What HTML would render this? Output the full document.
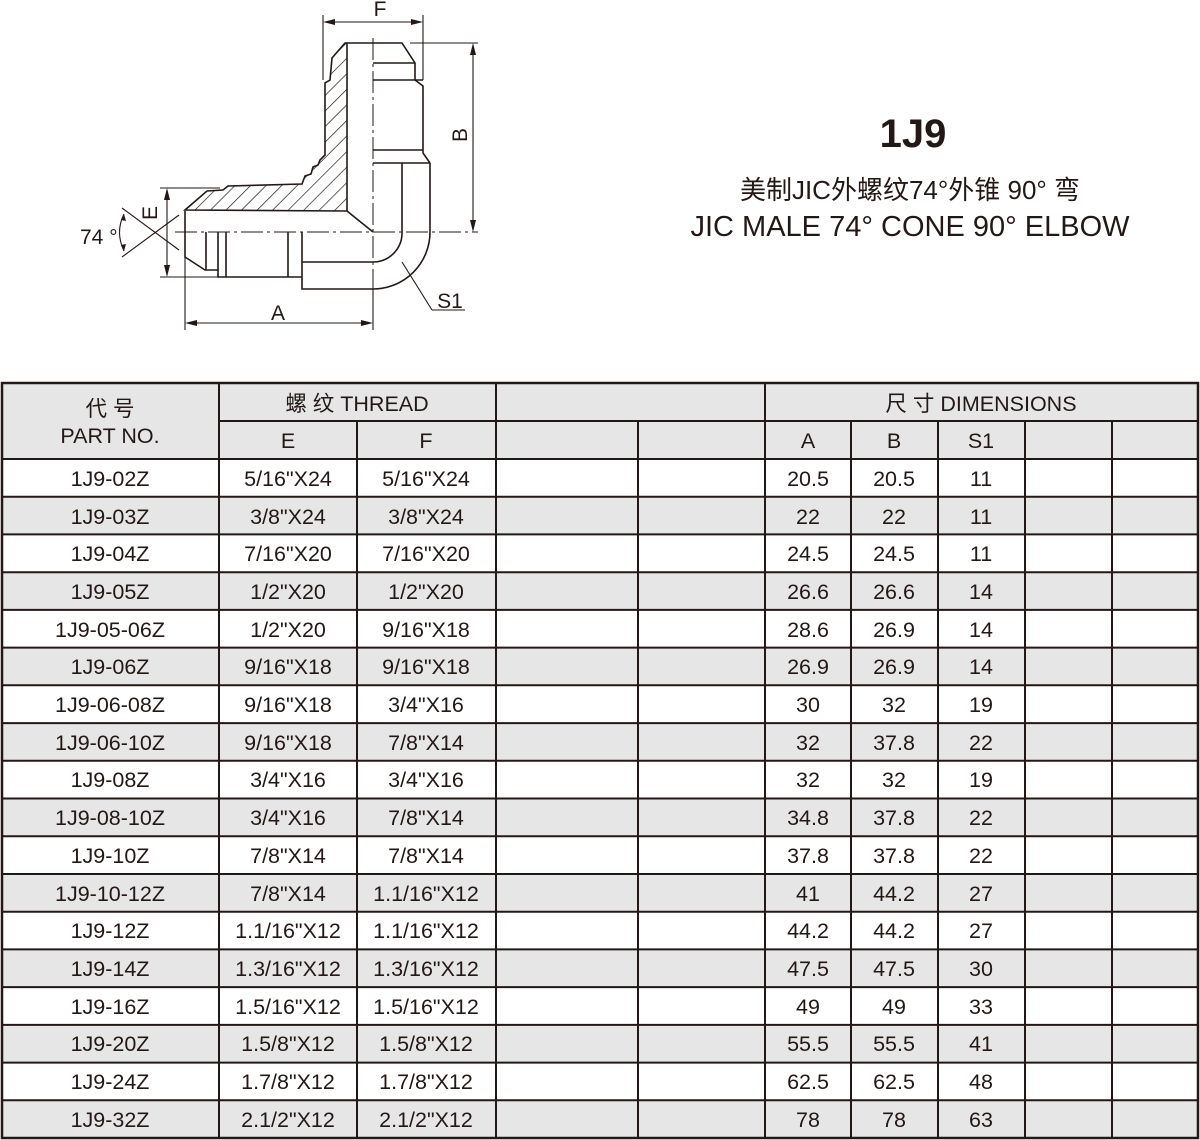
<!DOCTYPE html>
<html><head><meta charset="utf-8"><style>
html,body{margin:0;padding:0;background:#fff;}
svg{display:block;}
text{font-family:"Liberation Sans","Noto Sans CJK SC",sans-serif;fill:#231815;}
</style></head><body>
<svg width="1200" height="1140" viewBox="0 0 1200 1140" xmlns="http://www.w3.org/2000/svg">
<defs>
<pattern id="h" patternUnits="userSpaceOnUse" width="11" height="11" patternTransform="rotate(45)">
<line x1="0" y1="0" x2="0" y2="11" stroke="#231815" stroke-width="1.4"/>
</pattern>
</defs>
<g stroke="#231815" stroke-width="1.6" fill="none">
<path d="M345,43 L332,58 L330,80 L325,83 L325,155 L320,160 L318,165 L313,167 L311,174 L305,176 L302,184 L228,186 L223,190 L207,191 L185,210 L347,211 L347,43 Z" fill="url(#h)"/>
<line x1="347" y1="211" x2="373" y2="232"/>
<path d="M347,43 L402,43 L415,63 L415,80 L423,86 L423,153 L430,163"/>
<line x1="373" y1="63" x2="415" y2="63"/>
<line x1="373" y1="80" x2="423" y2="80"/>
<line x1="373" y1="150" x2="423" y2="150"/>
<line x1="373" y1="163" x2="430" y2="163"/>
<path d="M430,163 L430,232 A57,57 0 0 1 373,289 L302,289 L302,232"/>
<path d="M402,163 L402,232 A29,29 0 0 1 373,262 L302,262"/>
<path d="M185,211 L185,257 L205,270 L218,270 L218,277 L302,277"/>
<line x1="206" y1="232" x2="206" y2="270"/>
<line x1="218" y1="232" x2="218" y2="270"/>
<line x1="226" y1="232" x2="226" y2="277"/>
<line x1="288" y1="232" x2="288" y2="277"/>
<line x1="175" y1="232" x2="478" y2="232" stroke-width="1" stroke-dasharray="22,4,3,4"/>
<line x1="373" y1="38" x2="373" y2="330" stroke-width="1" stroke-dasharray="22,4,3,4"/>
<g stroke-width="1.1">
<line x1="160" y1="188" x2="220" y2="188"/><line x1="160" y1="277" x2="218" y2="277"/>
<line x1="167" y1="190" x2="167" y2="275"/>
<line x1="122" y1="208" x2="179" y2="250"/><line x1="122" y1="257" x2="179" y2="215"/>
<path d="M124,214 Q115,232 124,251"/>
<line x1="185" y1="257" x2="185" y2="330"/><line x1="373" y1="289" x2="373" y2="330"/>
<line x1="187" y1="323" x2="371" y2="323"/>
<line x1="323" y1="15" x2="323" y2="80"/><line x1="423" y1="15" x2="423" y2="80"/>
<line x1="325" y1="22" x2="421" y2="22"/>
<line x1="410" y1="43" x2="478" y2="43"/>
<line x1="473" y1="45" x2="473" y2="230"/>
<line x1="402" y1="262" x2="432" y2="310"/><line x1="432" y1="310" x2="465" y2="310"/>
</g>
</g>
<g fill="#231815">
<path d="M167,188 l-3,12 h6 z"/><path d="M167,277 l-3,-12 h6 z"/>
<path d="M185,323 l12,-3 v6 z"/><path d="M373,323 l-12,-3 v6 z"/>
<path d="M323,22 l12,-3 v6 z"/><path d="M423,22 l-12,-3 v6 z"/>
<path d="M473,43 l-3,12 h6 z"/><path d="M473,232 l-3,-12 h6 z"/>
<path d="M124,214 l-3,6 l5,1 z"/><path d="M124,251 l-3,-6 l5,-1 z"/>
</g>
<text x="380" y="16" font-size="21" text-anchor="middle">F</text>
<text x="278" y="320" font-size="21" text-anchor="middle">A</text>
<text x="450" y="308" font-size="21" text-anchor="middle">S1</text>
<text x="80" y="244" font-size="21">74 °</text>
<text transform="translate(157,213) rotate(-90)" font-size="21" text-anchor="middle">E</text>
<text transform="translate(467,135) rotate(-90)" font-size="21" text-anchor="middle">B</text>
<text x="913" y="147" font-size="40" font-weight="bold" text-anchor="middle">1J9</text>
<text x="910" y="199" font-size="26" text-anchor="middle">美制JIC外螺纹74°外锥 90° 弯</text>
<text x="910" y="236" font-size="29" text-anchor="middle">JIC MALE 74° CONE 90° ELBOW</text>
<g fill="#e6e6e6">
<rect x="2" y="383" width="1196" height="76"/>
<rect x="2" y="496.7" width="1196" height="37.7"/>
<rect x="2" y="572.2" width="1196" height="37.7"/>
<rect x="2" y="647.6" width="1196" height="37.7"/>
<rect x="2" y="723.1" width="1196" height="37.7"/>
<rect x="2" y="798.5" width="1196" height="37.7"/>
<rect x="2" y="874" width="1196" height="37.7"/>
<rect x="2" y="949.4" width="1196" height="37.7"/>
<rect x="2" y="1024.9" width="1196" height="37.7"/>
<rect x="2" y="1100.3" width="1196" height="37.7"/>
</g>
<g stroke="#231815" stroke-width="2" fill="none">
<rect x="2" y="383" width="1196" height="755" stroke-width="2.5"/>
<line x1="219" y1="421" x2="1198" y2="421"/>
<line x1="2" y1="459" x2="1198" y2="459"/>
<line x1="2" y1="496.7" x2="1198" y2="496.7"/><line x1="2" y1="534.4" x2="1198" y2="534.4"/>
<line x1="2" y1="572.2" x2="1198" y2="572.2"/><line x1="2" y1="609.9" x2="1198" y2="609.9"/>
<line x1="2" y1="647.6" x2="1198" y2="647.6"/><line x1="2" y1="685.3" x2="1198" y2="685.3"/>
<line x1="2" y1="723.1" x2="1198" y2="723.1"/><line x1="2" y1="760.8" x2="1198" y2="760.8"/>
<line x1="2" y1="798.5" x2="1198" y2="798.5"/><line x1="2" y1="836.2" x2="1198" y2="836.2"/>
<line x1="2" y1="874" x2="1198" y2="874"/><line x1="2" y1="911.7" x2="1198" y2="911.7"/>
<line x1="2" y1="949.4" x2="1198" y2="949.4"/><line x1="2" y1="987.1" x2="1198" y2="987.1"/>
<line x1="2" y1="1024.9" x2="1198" y2="1024.9"/><line x1="2" y1="1062.6" x2="1198" y2="1062.6"/>
<line x1="2" y1="1100.3" x2="1198" y2="1100.3"/>
<line x1="219" y1="383" x2="219" y2="1138"/>
<line x1="357" y1="421" x2="357" y2="1138"/>
<line x1="496" y1="383" x2="496" y2="1138"/>
<line x1="638" y1="421" x2="638" y2="1138"/>
<line x1="765" y1="383" x2="765" y2="1138"/>
<line x1="851" y1="421" x2="851" y2="1138"/>
<line x1="938" y1="421" x2="938" y2="1138"/>
<line x1="1025" y1="421" x2="1025" y2="1138"/>
<line x1="1112" y1="421" x2="1112" y2="1138"/>
</g>
<g font-size="21.5" text-anchor="middle">
<text x="110" y="416">代 号</text>
<text x="110" y="443">PART NO.</text>
<text x="357" y="411">螺 纹 THREAD</text>
<text x="981" y="411">尺 寸  DIMENSIONS</text>
<text x="288" y="448">E</text><text x="426" y="448">F</text>
<text x="808" y="448">A</text><text x="894" y="448">B</text><text x="981" y="448">S1</text>
</g>
<g font-size="21.5" text-anchor="middle">
<text y="486"><tspan x="110">1J9-02Z</tspan><tspan x="288">5/16"X24</tspan><tspan x="426">5/16"X24</tspan><tspan x="808">20.5</tspan><tspan x="894">20.5</tspan><tspan x="981">11</tspan></text>
<text y="524"><tspan x="110">1J9-03Z</tspan><tspan x="288">3/8"X24</tspan><tspan x="426">3/8"X24</tspan><tspan x="808">22</tspan><tspan x="894">22</tspan><tspan x="981">11</tspan></text>
<text y="561"><tspan x="110">1J9-04Z</tspan><tspan x="288">7/16"X20</tspan><tspan x="426">7/16"X20</tspan><tspan x="808">24.5</tspan><tspan x="894">24.5</tspan><tspan x="981">11</tspan></text>
<text y="599"><tspan x="110">1J9-05Z</tspan><tspan x="288">1/2"X20</tspan><tspan x="426">1/2"X20</tspan><tspan x="808">26.6</tspan><tspan x="894">26.6</tspan><tspan x="981">14</tspan></text>
<text y="637"><tspan x="110">1J9-05-06Z</tspan><tspan x="288">1/2"X20</tspan><tspan x="426">9/16"X18</tspan><tspan x="808">28.6</tspan><tspan x="894">26.9</tspan><tspan x="981">14</tspan></text>
<text y="674"><tspan x="110">1J9-06Z</tspan><tspan x="288">9/16"X18</tspan><tspan x="426">9/16"X18</tspan><tspan x="808">26.9</tspan><tspan x="894">26.9</tspan><tspan x="981">14</tspan></text>
<text y="712"><tspan x="110">1J9-06-08Z</tspan><tspan x="288">9/16"X18</tspan><tspan x="426">3/4"X16</tspan><tspan x="808">30</tspan><tspan x="894">32</tspan><tspan x="981">19</tspan></text>
<text y="750"><tspan x="110">1J9-06-10Z</tspan><tspan x="288">9/16"X18</tspan><tspan x="426">7/8"X14</tspan><tspan x="808">32</tspan><tspan x="894">37.8</tspan><tspan x="981">22</tspan></text>
<text y="787"><tspan x="110">1J9-08Z</tspan><tspan x="288">3/4"X16</tspan><tspan x="426">3/4"X16</tspan><tspan x="808">32</tspan><tspan x="894">32</tspan><tspan x="981">19</tspan></text>
<text y="825"><tspan x="110">1J9-08-10Z</tspan><tspan x="288">3/4"X16</tspan><tspan x="426">7/8"X14</tspan><tspan x="808">34.8</tspan><tspan x="894">37.8</tspan><tspan x="981">22</tspan></text>
<text y="863"><tspan x="110">1J9-10Z</tspan><tspan x="288">7/8"X14</tspan><tspan x="426">7/8"X14</tspan><tspan x="808">37.8</tspan><tspan x="894">37.8</tspan><tspan x="981">22</tspan></text>
<text y="901"><tspan x="110">1J9-10-12Z</tspan><tspan x="288">7/8"X14</tspan><tspan x="426">1.1/16"X12</tspan><tspan x="808">41</tspan><tspan x="894">44.2</tspan><tspan x="981">27</tspan></text>
<text y="938"><tspan x="110">1J9-12Z</tspan><tspan x="288">1.1/16"X12</tspan><tspan x="426">1.1/16"X12</tspan><tspan x="808">44.2</tspan><tspan x="894">44.2</tspan><tspan x="981">27</tspan></text>
<text y="976"><tspan x="110">1J9-14Z</tspan><tspan x="288">1.3/16"X12</tspan><tspan x="426">1.3/16"X12</tspan><tspan x="808">47.5</tspan><tspan x="894">47.5</tspan><tspan x="981">30</tspan></text>
<text y="1014"><tspan x="110">1J9-16Z</tspan><tspan x="288">1.5/16"X12</tspan><tspan x="426">1.5/16"X12</tspan><tspan x="808">49</tspan><tspan x="894">49</tspan><tspan x="981">33</tspan></text>
<text y="1051"><tspan x="110">1J9-20Z</tspan><tspan x="288">1.5/8"X12</tspan><tspan x="426">1.5/8"X12</tspan><tspan x="808">55.5</tspan><tspan x="894">55.5</tspan><tspan x="981">41</tspan></text>
<text y="1089"><tspan x="110">1J9-24Z</tspan><tspan x="288">1.7/8"X12</tspan><tspan x="426">1.7/8"X12</tspan><tspan x="808">62.5</tspan><tspan x="894">62.5</tspan><tspan x="981">48</tspan></text>
<text y="1127"><tspan x="110">1J9-32Z</tspan><tspan x="288">2.1/2"X12</tspan><tspan x="426">2.1/2"X12</tspan><tspan x="808">78</tspan><tspan x="894">78</tspan><tspan x="981">63</tspan></text>
</g>
</svg>
</body></html>
